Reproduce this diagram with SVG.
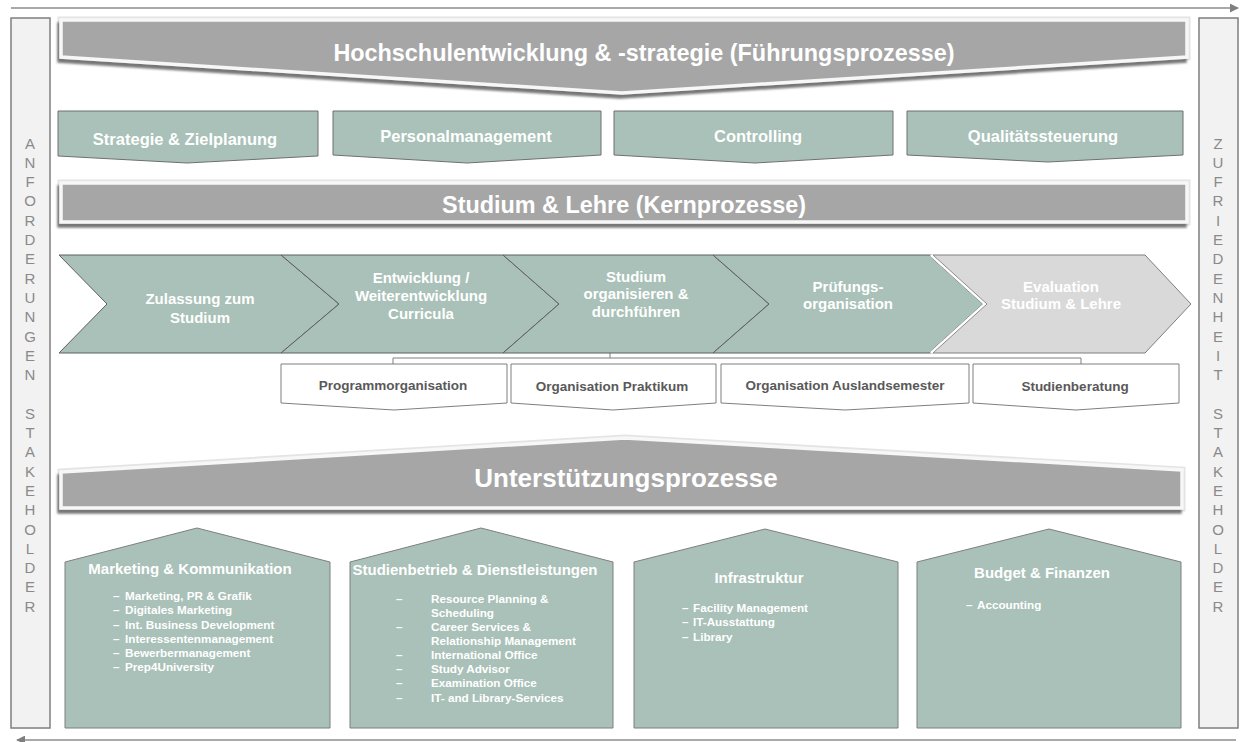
<svg xmlns="http://www.w3.org/2000/svg" width="1241" height="742" viewBox="0 0 1241 742">
  <style>
    text { font-family: "Liberation Sans", Arial, sans-serif; }
    .side { fill: #f2f2f2; stroke: #7f7f7f; stroke-width: 1.5; }
    .sideTxt { font-size: 15px; fill: #8a8a8a; text-anchor: middle; }
    .bannerOuter { fill: none; stroke: #e4e4e4; stroke-width: 7; stroke-linejoin: miter; }
    .banner { fill: #a6a6a6; stroke: #f7f7f7; stroke-width: 3.5; stroke-linejoin: miter; }
    .bannerTxt { font-size: 23.4px; font-weight: bold; fill: #ffffff; text-anchor: middle; }
    .sage { fill: #a9c1b8; stroke: #6f6f6f; stroke-width: 1; }
    .chev { fill: #a9c1b8; stroke: #5f5f5f; stroke-width: 1; }
    .chevGray { fill: #d9d9d9; stroke: #7f7f7f; stroke-width: 1; }
    .boxTxt { font-size: 16.5px; font-weight: bold; fill: #ffffff; text-anchor: middle; }
    .wTxt { font-size: 15px; font-weight: bold; fill: #ffffff; text-anchor: middle; }
    .sub { fill: #ffffff; stroke: #7f7f7f; stroke-width: 1; }
    .subTxt { font-size: 13.5px; font-weight: bold; fill: #595959; text-anchor: middle; }
    .house { fill: #a9c1b8; stroke: #7f7f7f; stroke-width: 1; }
    .item { font-size: 11.7px; font-weight: bold; fill: #ffffff; }
    .conn { fill: none; stroke: #7f7f7f; stroke-width: 1; }
    .flow { fill: none; stroke: #8c8c8c; stroke-width: 1.5; }
  </style>
  <defs>
    <marker id="arrowHead" viewBox="0 0 10 10" refX="9" refY="5" markerWidth="6" markerHeight="6" orient="auto-start-reverse" markerUnits="strokeWidth">
      <path d="M0,0 L10,5 L0,10 z" fill="#7f7f7f"/>
    </marker>
    <filter id="shadow" x="-5%" y="-20%" width="110%" height="150%">
      <feDropShadow dx="-2" dy="4" stdDeviation="0.8" flood-color="#6a6a6a" flood-opacity="0.9"/>
    </filter>
  </defs>

  <rect width="1241" height="742" fill="#ffffff"/>

  <!-- flow arrows top and bottom -->
  <g id="connectors">
    <line class="flow" x1="11" y1="8" x2="1238" y2="8" marker-end="url(#arrowHead)"/>
    <line class="flow" x1="1236" y1="740" x2="17" y2="740" marker-end="url(#arrowHead)"/>
    <!-- bracket from core process to support tasks -->
    <polyline class="conn" points="610,353 610,358"/>
    <polyline class="conn" points="393,364 393,358 1081,358 1081,364"/>
  </g>

  <!-- left stakeholder bar -->
  <g id="anforderungen">
    <rect class="side" x="11" y="18" width="39" height="710"/>
    <g class="sideTxt">
      <text x="30" y="148.5">A</text>
      <text x="30" y="167.8">N</text>
      <text x="30" y="187.1">F</text>
      <text x="30" y="206.4">O</text>
      <text x="30" y="225.7">R</text>
      <text x="30" y="245">D</text>
      <text x="30" y="264.3">E</text>
      <text x="30" y="283.6">R</text>
      <text x="30" y="302.9">U</text>
      <text x="30" y="322.2">N</text>
      <text x="30" y="341.5">G</text>
      <text x="30" y="360.8">E</text>
      <text x="30" y="380.1">N</text>
      <text x="30" y="418.7">S</text>
      <text x="30" y="438">T</text>
      <text x="30" y="457.3">A</text>
      <text x="30" y="476.6">K</text>
      <text x="30" y="495.9">E</text>
      <text x="30" y="515.2">H</text>
      <text x="30" y="534.5">O</text>
      <text x="30" y="553.8">L</text>
      <text x="30" y="573.1">D</text>
      <text x="30" y="592.4">E</text>
      <text x="30" y="611.7">R</text>
    </g>
  </g>

  <!-- right stakeholder bar -->
  <g id="zufriedenheit">
    <rect class="side" x="1199" y="18" width="39" height="710"/>
    <g class="sideTxt">
      <text x="1218" y="148.5">Z</text>
      <text x="1218" y="167.8">U</text>
      <text x="1218" y="187.1">F</text>
      <text x="1218" y="206.4">R</text>
      <text x="1218" y="225.7">I</text>
      <text x="1218" y="245">E</text>
      <text x="1218" y="264.3">D</text>
      <text x="1218" y="283.6">E</text>
      <text x="1218" y="302.9">N</text>
      <text x="1218" y="322.2">H</text>
      <text x="1218" y="341.5">E</text>
      <text x="1218" y="360.8">I</text>
      <text x="1218" y="380.1">T</text>
      <text x="1218" y="418.7">S</text>
      <text x="1218" y="438">T</text>
      <text x="1218" y="457.3">A</text>
      <text x="1218" y="476.6">K</text>
      <text x="1218" y="495.9">E</text>
      <text x="1218" y="515.2">H</text>
      <text x="1218" y="534.5">O</text>
      <text x="1218" y="553.8">L</text>
      <text x="1218" y="573.1">D</text>
      <text x="1218" y="592.4">E</text>
      <text x="1218" y="611.7">R</text>
    </g>
  </g>

  <!-- leadership processes banner -->
  <g id="fuehrungsprozesse">
    <polygon class="bannerOuter" points="61,20 1187,20 1187,57 622,93 61,57"/>
    <polygon class="banner" filter="url(#shadow)" points="61,20 1187,20 1187,57 622,93 61,57"/>
    <text class="bannerTxt" x="644" y="61">Hochschulentwicklung &amp; -strategie (Führungsprozesse)</text>
  </g>

  <g id="strategie">
    <polygon class="sage" points="58,111 318,111 318,156 187,163 58,156"/>
    <text class="boxTxt" x="185" y="145">Strategie &amp; Zielplanung</text>
  </g>
  <g id="personal">
    <polygon class="sage" points="333,111 601,111 601,155 467,163 333,155"/>
    <text class="boxTxt" x="466" y="142">Personalmanagement</text>
  </g>
  <g id="controlling">
    <polygon class="sage" points="614,111 893,111 893,155 755,163 614,155"/>
    <text class="boxTxt" x="758" y="142">Controlling</text>
  </g>
  <g id="qualitaet">
    <polygon class="sage" points="907,111 1183,111 1183,155 1048,162 907,155"/>
    <text class="boxTxt" x="1043" y="142">Qualitätssteuerung</text>
  </g>

  <!-- core processes banner -->
  <g id="kernprozesse">
    <rect class="bannerOuter" x="61" y="183" width="1126" height="39"/>
    <rect class="banner" filter="url(#shadow)" x="61" y="183" width="1126" height="39"/>
    <text class="bannerTxt" x="624" y="213">Studium &amp; Lehre (Kernprozesse)</text>
  </g>

  <!-- process chain -->
  <g id="zulassung">
    <polygon class="chev" points="59,255 281,255 339,304 281,353 59,353 107,304"/>
    <text class="wTxt"><tspan x="200" y="304">Zulassung zum</tspan><tspan x="200" y="323">Studium</tspan></text>
  </g>
  <g id="curricula">
    <polygon class="chev" points="281,255 503,255 559,304 503,353 281,353 339,304"/>
    <text class="wTxt"><tspan x="421" y="283">Entwicklung /</tspan><tspan x="421" y="301">Weiterentwicklung</tspan><tspan x="421" y="319">Curricula</tspan></text>
  </g>
  <g id="durchfuehren">
    <polygon class="chev" points="503,255 713,255 769,304 713,353 503,353 559,304"/>
    <text class="wTxt"><tspan x="636" y="282">Studium</tspan><tspan x="636" y="299">organisieren &amp;</tspan><tspan x="636" y="317">durchführen</tspan></text>
  </g>
  <g id="pruefung">
    <polygon class="chev" points="713,255 929,255 983,304 929,353 713,353 769,304"/>
    <text class="wTxt"><tspan x="848" y="292">Prüfungs-</tspan><tspan x="848" y="309">organisation</tspan></text>
  </g>
  <g id="evaluation">
    <polygon class="chevGray" points="929,255 1145,255 1191,304 1145,353 929,353 983,304"/>
    <polyline points="931,255 985,304 931,353" fill="none" stroke="#ffffff" stroke-width="3"/>
    <polyline points="933,255 987,304 933,353" fill="none" stroke="#8c8c8c" stroke-width="1"/>
    <text class="wTxt"><tspan x="1061" y="292">Evaluation</tspan><tspan x="1061" y="309">Studium &amp; Lehre</tspan></text>
  </g>

  <!-- supporting tasks of the core process -->
  <g id="programmorganisation">
    <polygon class="sub" points="281,364 507,364 507,403 394,410 281,403"/>
    <text class="subTxt" x="393" y="390">Programmorganisation</text>
  </g>
  <g id="praktikum">
    <polygon class="sub" points="511,364 716,364 716,403 613,410 511,403"/>
    <text class="subTxt" x="612" y="391">Organisation Praktikum</text>
  </g>
  <g id="auslandsemester">
    <polygon class="sub" points="721,364 969,364 969,403 845,410 721,403"/>
    <text class="subTxt" x="845" y="390">Organisation Auslandsemester</text>
  </g>
  <g id="studienberatung">
    <polygon class="sub" points="973,364 1179,364 1179,403 1076,410 973,403"/>
    <text class="subTxt" x="1075" y="391">Studienberatung</text>
  </g>

  <!-- support processes banner -->
  <g id="unterstuetzung">
    <polygon class="bannerOuter" points="61,472 625,438 1182,470 1182,508 61,508"/>
    <polygon class="banner" filter="url(#shadow)" points="61,472 625,438 1182,470 1182,508 61,508"/>
    <text class="bannerTxt" style="font-size:26px" x="626" y="487">Unterstützungsprozesse</text>
  </g>

  <!-- support areas -->
  <g id="marketing">
    <polygon class="house" points="65,562 197,528 330,562 330,728 65,728"/>
    <text class="wTxt" x="190" y="574">Marketing &amp; Kommunikation</text>
    <g class="item">
      <text x="113" y="600">–</text><text x="125" y="600">Marketing, PR &amp; Grafik</text>
      <text x="113" y="614">–</text><text x="125" y="614">Digitales Marketing</text>
      <text x="113" y="628.5">–</text><text x="125" y="628.5">Int. Business Development</text>
      <text x="113" y="642.5">–</text><text x="125" y="642.5">Interessentenmanagement</text>
      <text x="113" y="656.5">–</text><text x="125" y="656.5">Bewerbermanagement</text>
      <text x="113" y="671">–</text><text x="125" y="671">Prep4University</text>
    </g>
  </g>
  <g id="studienbetrieb">
    <polygon class="house" points="350,562 481,528 613,562 613,728 350,728"/>
    <text class="wTxt" x="475" y="575">Studienbetrieb &amp; Dienstleistungen</text>
    <g class="item">
      <text x="396" y="603">–</text><text x="431" y="603">Resource Planning &amp;</text>
      <text x="431" y="617">Scheduling</text>
      <text x="396" y="631">–</text><text x="431" y="631">Career Services &amp;</text>
      <text x="431" y="645">Relationship Management</text>
      <text x="396" y="659">–</text><text x="431" y="659">International Office</text>
      <text x="396" y="673">–</text><text x="431" y="673">Study Advisor</text>
      <text x="396" y="687">–</text><text x="431" y="687">Examination Office</text>
      <text x="396" y="702">–</text><text x="431" y="702">IT- and Library-Services</text>
    </g>
  </g>
  <g id="infrastruktur">
    <polygon class="house" points="634,562 765,529 898,562 898,728 634,728"/>
    <text class="wTxt" x="759" y="583">Infrastruktur</text>
    <g class="item">
      <text x="682" y="612">–</text><text x="693" y="612">Facility Management</text>
      <text x="682" y="626">–</text><text x="693" y="626">IT-Ausstattung</text>
      <text x="682" y="641">–</text><text x="693" y="641">Library</text>
    </g>
  </g>
  <g id="budget">
    <polygon class="house" points="917,562 1049,529 1181,562 1181,728 917,728"/>
    <text class="wTxt" x="1042" y="578">Budget &amp; Finanzen</text>
    <g class="item">
      <text x="966" y="609">–</text><text x="977" y="609">Accounting</text>
    </g>
  </g>
</svg>
